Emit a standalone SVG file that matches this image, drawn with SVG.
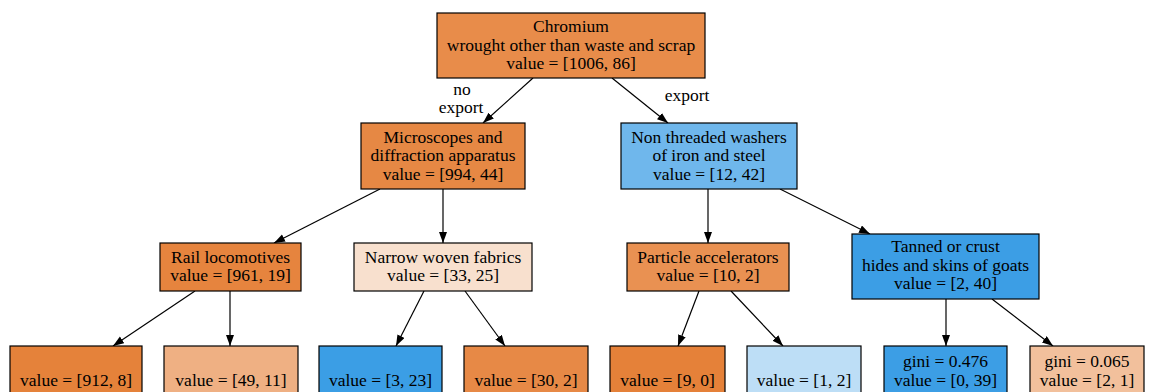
<svg xmlns="http://www.w3.org/2000/svg" width="1155" height="392" viewBox="0 0 1155 392">
<defs>
<marker id="arr" markerUnits="userSpaceOnUse" markerWidth="12" markerHeight="9" refX="11" refY="4" orient="auto">
<path d="M0,0 L11,4 L0,8 z" fill="#000"/>
</marker>
<style>
.box{stroke:#000;stroke-width:1.2}
text{font-family:"Liberation Serif","Times New Roman",serif;font-size:17.5px;fill:#000;text-anchor:middle}
.edge{stroke:#000;stroke-width:1.2;fill:none;marker-end:url(#arr)}
</style>
</defs>
<rect width="1155" height="392" fill="#fff"/>
<g id="connectors">
<line class="edge" x1="533" y1="78" x2="483" y2="123"/>
<line class="edge" x1="612" y1="78" x2="668" y2="123"/>
<line class="edge" x1="380" y1="189" x2="274" y2="243"/>
<line class="edge" x1="443" y1="189" x2="443" y2="243"/>
<line class="edge" x1="708" y1="189" x2="708" y2="243"/>
<line class="edge" x1="780" y1="189" x2="870" y2="234"/>
<line class="edge" x1="195" y1="291" x2="113" y2="346"/>
<line class="edge" x1="230" y1="291" x2="230" y2="346"/>
<line class="edge" x1="424" y1="291" x2="396" y2="346"/>
<line class="edge" x1="465" y1="291" x2="505" y2="346"/>
<line class="edge" x1="699" y1="291" x2="678" y2="346"/>
<line class="edge" x1="731" y1="291" x2="783" y2="346"/>
<line class="edge" x1="946" y1="299" x2="946" y2="346"/>
<line class="edge" x1="992" y1="299" x2="1053" y2="346"/>
<text x="462" y="95">no</text>
<text x="461" y="113">export</text>
<text x="687" y="101">export</text>
</g>
<g id="n0">
<rect class="box" x="437" y="13" width="268" height="65" fill="#e88c4a"/>
<text x="571" y="32">Chromium</text>
<text x="571" y="50.5">wrought other than waste and scrap</text>
<text x="571" y="69">value = [1006, 86]</text>
</g>
<g id="n1">
<rect class="box" x="361" y="123" width="164" height="66" fill="#e68844"/>
<text x="443" y="142.5">Microscopes and</text>
<text x="443" y="161">diffraction apparatus</text>
<text x="443" y="179.5">value = [994, 44]</text>
</g>
<g id="n2">
<rect class="box" x="621" y="123" width="176" height="66" fill="#6fb7ec"/>
<text x="709" y="142.5">Non threaded washers</text>
<text x="709" y="161">of iron and steel</text>
<text x="709" y="179.5">value = [12, 42]</text>
</g>
<g id="n3">
<rect class="box" x="160" y="243" width="141" height="48" fill="#e6843e"/>
<text x="230.5" y="262.5">Rail locomotives</text>
<text x="230.5" y="281">value = [961, 19]</text>
</g>
<g id="n4">
<rect class="box" x="354" y="243" width="178" height="48" fill="#f8e0ce"/>
<text x="443" y="262.5">Narrow woven fabrics</text>
<text x="443" y="281">value = [33, 25]</text>
</g>
<g id="n5">
<rect class="box" x="627" y="243" width="162" height="48" fill="#e99152"/>
<text x="708" y="262.5">Particle accelerators</text>
<text x="708" y="281">value = [10, 2]</text>
</g>
<g id="n6">
<rect class="box" x="852" y="234" width="187" height="65" fill="#3c9ee5"/>
<text x="945.5" y="252">Tanned or crust</text>
<text x="945.5" y="270.5">hides and skins of goats</text>
<text x="945.5" y="289">value = [2, 40]</text>
</g>
<g id="n7">
<rect class="box" x="10" y="346" width="132" height="60" fill="#e5823a"/>
<text x="76" y="385.5">value = [912, 8]</text>
</g>
<g id="n8">
<rect class="box" x="164" y="346" width="134" height="60" fill="#efb083"/>
<text x="231" y="385.5">value = [49, 11]</text>
</g>
<g id="n9">
<rect class="box" x="319" y="346" width="123" height="60" fill="#3b9ee5"/>
<text x="380.5" y="385.5">value = [3, 23]</text>
</g>
<g id="n10">
<rect class="box" x="464" y="346" width="124" height="60" fill="#e78946"/>
<text x="526" y="385.5">value = [30, 2]</text>
</g>
<g id="n11">
<rect class="box" x="610" y="346" width="115" height="60" fill="#e58139"/>
<text x="667.5" y="385.5">value = [9, 0]</text>
</g>
<g id="n12">
<rect class="box" x="747" y="346" width="114" height="60" fill="#bddef6"/>
<text x="804" y="385.5">value = [1, 2]</text>
</g>
<g id="n13">
<rect class="box" x="884" y="346" width="123" height="60" fill="#3c9ee5"/>
<text x="945.5" y="367">gini = 0.476</text>
<text x="945.5" y="385.5">value = [0, 39]</text>
</g>
<g id="n14">
<rect class="box" x="1030" y="346" width="114" height="60" fill="#f2c09c"/>
<text x="1087" y="367">gini = 0.065</text>
<text x="1087" y="385.5">value = [2, 1]</text>
</g>
</svg>
